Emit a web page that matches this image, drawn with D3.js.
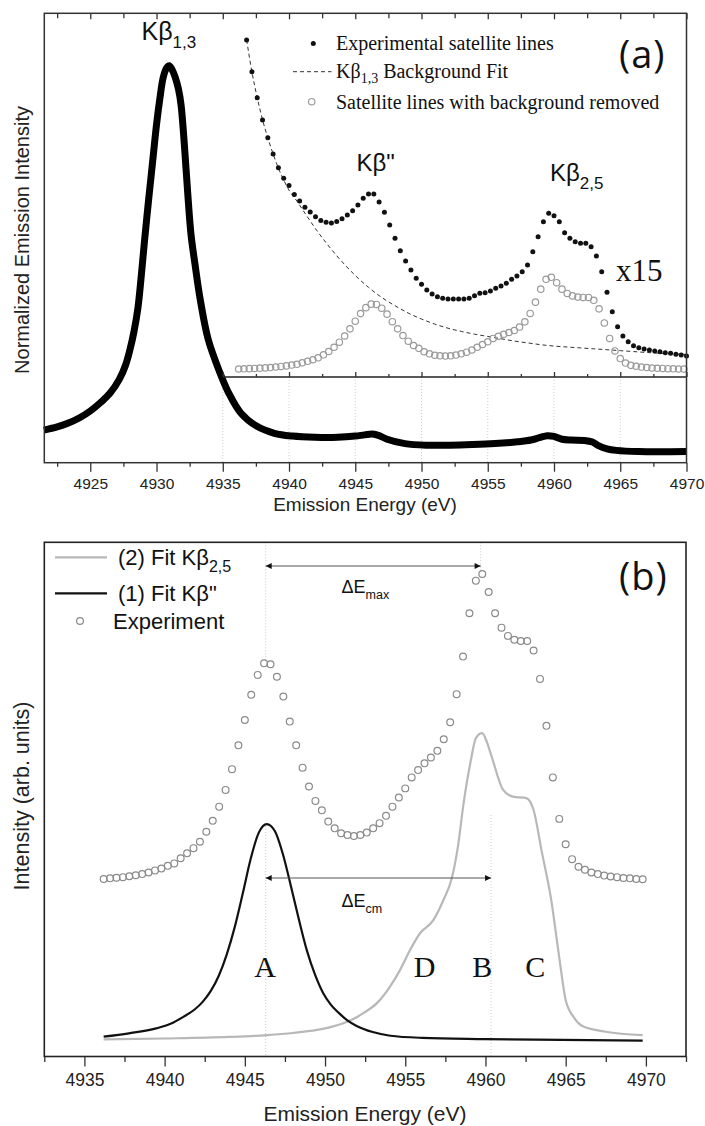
<!DOCTYPE html>
<html>
<head>
<meta charset="utf-8">
<script src="https://cdn.jsdelivr.net/npm/d3@7"></script>
<style>
  body { margin: 0; background: #fff; }
</style>
</head>
<body>
<svg id="chart" width="705" height="1126"></svg>
<script>
// ---------------- data ----------------
// (a) main Kb1,3 emission line, normalized
const mainEnergy = [4921.5, 4922.5, 4923.3, 4924.2, 4925.0, 4925.8, 4926.5, 4927.2, 4927.66, 4928.0,
  4928.3, 4928.6, 4928.85, 4929.1, 4929.4, 4929.7, 4930.0, 4930.25, 4930.5, 4930.75,
  4930.95, 4931.15, 4931.4, 4931.65, 4931.85, 4932.1, 4932.35, 4932.6, 4932.9, 4933.3,
  4933.9, 4934.8, 4935.45, 4936.36, 4937.55, 4938.9, 4940.27, 4941.96, 4943.66, 4945.0,
  4945.7, 4946.3, 4946.8, 4947.4, 4948.75, 4950.45, 4952.15, 4953.84, 4955.54, 4957.24,
  4958.26, 4958.9, 4959.5, 4960.0, 4960.6, 4961.3, 4962.3, 4962.9, 4963.35, 4964.0,
  4964.7, 4966.4, 4970.0];
const mainValue = [0.082, 0.09, 0.099, 0.113, 0.13, 0.152, 0.175, 0.21, 0.245, 0.285,
  0.33, 0.39, 0.47, 0.56, 0.66, 0.755, 0.85, 0.915, 0.968, 0.992,
  0.998, 0.99, 0.97, 0.94, 0.90, 0.80, 0.68, 0.575, 0.50, 0.41,
  0.31, 0.225, 0.175, 0.125, 0.092, 0.074, 0.067, 0.064, 0.064, 0.067,
  0.070, 0.072, 0.068, 0.059, 0.048, 0.044, 0.044, 0.0455, 0.048, 0.0525,
  0.057, 0.063, 0.068, 0.066, 0.059, 0.057, 0.056, 0.052, 0.043, 0.035,
  0.031, 0.028, 0.028];

// (a) inset, x15: experimental satellite lines (filled dots)
const rawEnergy = [4936.8, 4937.2, 4937.6, 4938.0, 4938.4, 4938.8, 4939.2, 4939.6, 4940.0, 4940.4,
  4940.8, 4941.2, 4941.6, 4942.0, 4942.4, 4942.8, 4943.2, 4943.6, 4944.0, 4944.4,
  4944.8, 4945.2, 4945.6, 4946.0, 4946.4, 4946.8, 4947.2, 4947.6, 4948.0, 4948.4,
  4948.8, 4949.2, 4949.6, 4950.0, 4950.4, 4950.8, 4951.2, 4951.6, 4952.0, 4952.4,
  4952.8, 4953.2, 4953.6, 4954.0, 4954.4, 4954.8, 4955.2, 4955.6, 4956.0, 4956.4,
  4956.8, 4957.2, 4957.6, 4958.0, 4958.4, 4958.8, 4959.2, 4959.6, 4960.0, 4960.4,
  4960.8, 4961.2, 4961.6, 4962.0, 4962.4, 4962.8, 4963.2, 4963.6, 4964.0, 4964.4,
  4964.8, 4965.2, 4965.6, 4966.0, 4966.4, 4966.8, 4967.2, 4967.6, 4968.0, 4968.4,
  4968.8, 4969.2, 4969.6, 4970.0];
const rawValue = [3.588, 3.242, 2.959, 2.715, 2.522, 2.345, 2.195, 2.080, 2.001, 1.903,
  1.832, 1.763, 1.712, 1.661, 1.619, 1.600, 1.592, 1.608, 1.639, 1.679,
  1.726, 1.788, 1.862, 1.908, 1.908, 1.821, 1.709, 1.570, 1.425, 1.290,
  1.178, 1.080, 0.989, 0.924, 0.862, 0.818, 0.788, 0.771, 0.763, 0.763,
  0.763, 0.763, 0.771, 0.799, 0.826, 0.832, 0.851, 0.880, 0.905, 0.935,
  0.978, 1.014, 1.061, 1.134, 1.279, 1.443, 1.606, 1.698, 1.672, 1.606,
  1.486, 1.425, 1.388, 1.371, 1.371, 1.334, 1.232, 1.061, 0.836, 0.625,
  0.461, 0.360, 0.298, 0.254, 0.232, 0.218, 0.207, 0.196, 0.189, 0.178,
  0.171, 0.160, 0.153, 0.142];

// (a) inset: Kb1,3 background fit (dashed)
const bgEnergy = [4936.8, 4937.2, 4937.6, 4938.0, 4938.4, 4938.8, 4939.2, 4939.6, 4940.0, 4940.6,
  4941.2, 4942.0, 4943.0, 4944.0, 4945.0, 4946.0, 4947.0, 4948.0, 4949.0, 4950.0,
  4951.0, 4952.0, 4953.0, 4954.0, 4955.0, 4956.0, 4957.0, 4958.0, 4959.0, 4960.0,
  4961.0, 4962.0, 4963.0, 4964.0, 4965.0, 4966.0, 4967.0, 4968.0, 4969.0, 4970.0];
const bgValue = [3.59, 3.24, 2.96, 2.72, 2.52, 2.345, 2.19, 2.06, 1.95, 1.83,
  1.70, 1.53, 1.34, 1.17, 1.02, 0.89, 0.78, 0.69, 0.61, 0.545,
  0.49, 0.445, 0.41, 0.38, 0.355, 0.33, 0.305, 0.285, 0.265, 0.25,
  0.24, 0.23, 0.22, 0.21, 0.20, 0.19, 0.18, 0.172, 0.165, 0.158];

// satellite lines with background removed (open circles in (a) and "Experiment" in (b))
const satEnergy = [4936.2, 4936.6, 4937.0, 4937.4, 4937.8, 4938.2, 4938.6, 4939.0, 4939.4, 4939.8,
  4940.2, 4940.6, 4941.0, 4941.4, 4941.8, 4942.2, 4942.6, 4943.0, 4943.4, 4943.8,
  4944.2, 4944.6, 4945.0, 4945.4, 4945.8, 4946.2, 4946.6, 4947.0, 4947.4, 4947.8,
  4948.2, 4948.6, 4949.0, 4949.4, 4949.8, 4950.2, 4950.6, 4951.0, 4951.4, 4951.8,
  4952.2, 4952.6, 4953.0, 4953.4, 4953.8, 4954.2, 4954.6, 4955.0, 4955.4, 4955.8,
  4956.2, 4956.6, 4957.0, 4957.4, 4957.8, 4958.2, 4958.6, 4959.0, 4959.4, 4959.8,
  4960.2, 4960.6, 4961.0, 4961.4, 4961.8, 4962.2, 4962.6, 4963.0, 4963.4, 4963.8,
  4964.2, 4964.6, 4965.0, 4965.4, 4965.8, 4966.2, 4966.6, 4967.0, 4967.4, 4967.8,
  4968.2, 4968.6, 4969.0, 4969.4, 4969.8];
const satValue = [0.000, 0.002, 0.004, 0.006, 0.009, 0.012, 0.016, 0.021, 0.028, 0.034,
  0.043, 0.051, 0.068, 0.084, 0.101, 0.122, 0.155, 0.191, 0.237, 0.292,
  0.360, 0.438, 0.521, 0.604, 0.669, 0.707, 0.704, 0.663, 0.598, 0.516,
  0.438, 0.365, 0.303, 0.256, 0.225, 0.188, 0.166, 0.150, 0.144, 0.141,
  0.144, 0.152, 0.166, 0.183, 0.207, 0.237, 0.267, 0.297, 0.333, 0.357,
  0.379, 0.398, 0.420, 0.458, 0.514, 0.606, 0.729, 0.871, 0.978, 1.000,
  0.941, 0.871, 0.824, 0.797, 0.784, 0.780, 0.780, 0.749, 0.656, 0.502,
  0.333, 0.197, 0.114, 0.065, 0.040, 0.030, 0.021, 0.016, 0.011, 0.008,
  0.006, 0.003, 0.002, 0.000, -0.001];

// (b) fit (1) Kb''
const fit1Energy = [4936.2, 4937.77, 4939.47, 4940.37, 4941.17, 4941.87, 4942.37, 4942.87, 4943.37, 4943.87,
  4944.37, 4944.87, 4945.37, 4945.87, 4946.37, 4946.87, 4947.37, 4947.87, 4948.37, 4948.87,
  4949.37, 4949.87, 4950.37, 4950.87, 4951.37, 4951.97, 4952.97, 4954.07, 4956.07, 4959.97,
  4969.8];
const fit1Value = [0.011, 0.022, 0.038, 0.053, 0.076, 0.10, 0.125, 0.16, 0.21, 0.28,
  0.37, 0.48, 0.595, 0.68, 0.708, 0.685, 0.61, 0.505, 0.395, 0.293,
  0.215, 0.155, 0.115, 0.088, 0.065, 0.046, 0.026, 0.014, 0.007, 0.003,
  -0.002];

// (b) fit (2) Kb2,5
const fit2Energy = [4936.2, 4940.0, 4944.0, 4946.4, 4948.0, 4949.5, 4950.4, 4951.14, 4951.8, 4952.39,
  4953.22, 4954.05, 4954.68, 4955.3, 4955.92, 4956.75, 4957.38, 4957.9, 4958.3, 4958.62,
  4959.1, 4959.4, 4959.8, 4960.1, 4960.4, 4961.1, 4961.7, 4962.55, 4963.0, 4963.5,
  4964.1, 4964.6, 4965.0, 4965.5, 4966.1, 4967.5, 4969.8];
const fit2Value = [0.002, 0.005, 0.010, 0.016, 0.023, 0.033, 0.043, 0.055, 0.07, 0.088,
  0.12, 0.175, 0.23, 0.295, 0.35, 0.393, 0.459, 0.53, 0.64, 0.77,
  0.92, 0.99, 1.006, 0.975, 0.927, 0.82, 0.798, 0.793, 0.754, 0.62,
  0.459, 0.27, 0.131, 0.075, 0.044, 0.027, 0.016];

// ticks
const ticksA = [4925, 4930, 4935, 4940, 4945, 4950, 4955, 4960, 4965, 4970];
const minorA = [4922.5, 4927.5, 4932.5, 4937.5, 4942.5, 4947.5, 4952.5, 4957.5, 4962.5, 4967.5];
const insetTicks = [4935, 4940, 4945, 4950, 4955, 4960, 4965, 4970];
const insetMinor = [4937.5, 4942.5, 4947.5, 4952.5, 4957.5, 4962.5, 4967.5];
const insetGrid = [4935, 4940, 4945, 4950, 4955, 4960, 4965];
const ticksB = [4935, 4940, 4945, 4950, 4955, 4960, 4965, 4970];
const minorB = [4932.5, 4937.5, 4942.5, 4947.5, 4952.5, 4957.5, 4962.5, 4967.5, 4972.5];

// (b) annotations: energies of Kb'' max, Kb2,5 max, Kb2,5 centre of mass
const ePeakA = 4946.3;
const eMax = 4959.7;
const eCm = 4960.35;
const peakLetters = [["A", 4946.27], ["D", 4956.2], ["B", 4959.8], ["C", 4963.1]];

// ---------------- layout ----------------
const svg = d3.select("#chart");
const sans = '"Liberation Sans", Arial, sans-serif';
const serif = '"Liberation Serif", "Times New Roman", serif';
const panelFont = '"Open Sans", Lato, sans-serif';

const pA = { left: 44.3, right: 686.5, top: 13.3, bottom: 462.7 };
const pB = { left: 44.3, right: 686, top: 542.3, bottom: 1056.5 };
const insetAxisY = 377;

const xA = d3.scaleLinear().domain([4921.53, 4970]).range([pA.left, pA.right]);
const yA = d3.scaleLinear().domain([0, 1.13]).range([pA.bottom, pA.top]);
const yIn = d3.scaleLinear().domain([0, 1]).range([369, 277.3]);
const xB = d3.scaleLinear().domain([4932.5, 4972.5]).range([pB.left, pB.right]);
const yB = d3.scaleLinear().domain([0, 1]).range([1040, 735]);
const expOffset = 0.528; // experiment stacked above the fits

const zip = (xs, ys) => xs.map((x, i) => [x, ys[i]]);

// text with optional sub/superscript pieces
function addText(g, x, y, parts, size, family, anchor) {
  const t = g.append("text")
    .attr("x", x).attr("y", y)
    .attr("font-size", size)
    .attr("font-family", family)
    .attr("fill", "#111")
    .attr("text-anchor", anchor || "start");
  parts.forEach(p => {
    if (typeof p === "string") {
      t.append("tspan").text(p);
    } else {
      const s = t.append("tspan").text(p.t);
      if (p.size) s.attr("font-size", p.size);
      if (p.dy) s.attr("dy", p.dy);
    }
  });
  return t;
}

function styleAxis(g, fontSize) {
  g.select(".domain").remove();
  g.selectAll("line").attr("stroke", "#333").attr("stroke-width", 1.3);
  g.selectAll("text").attr("font-size", fontSize).attr("font-family", sans).attr("fill", "#222");
}

// ---------------- panel (a) ----------------
const gA = svg.append("g");

gA.selectAll("line.grid").data(insetGrid).join("line")
  .attr("class", "grid")
  .attr("x1", d => xA(d)).attr("x2", d => xA(d))
  .attr("y1", insetAxisY).attr("y2", pA.bottom)
  .attr("stroke", "#c4c4c4").attr("stroke-width", 0.8)
  .attr("stroke-dasharray", "1,2");

gA.append("path")
  .datum(zip(mainEnergy, mainValue))
  .attr("fill", "none")
  .attr("stroke", "#000")
  .attr("stroke-width", 7)
  .attr("stroke-linejoin", "round")
  .attr("d", d3.line().x(d => xA(d[0])).y(d => yA(d[1])).curve(d3.curveCatmullRom.alpha(0.5)));

// inset axis
gA.append("line")
  .attr("x1", xA(4935)).attr("x2", xA(4970))
  .attr("y1", insetAxisY).attr("y2", insetAxisY)
  .attr("stroke", "#222").attr("stroke-width", 1.6);
const inMaj = gA.append("g").attr("transform", `translate(0,${insetAxisY})`)
  .call(d3.axisTop(xA).tickValues(insetTicks).tickSize(5).tickFormat(""));
styleAxis(inMaj, 10);
const inMin = gA.append("g").attr("transform", `translate(0,${insetAxisY})`)
  .call(d3.axisTop(xA).tickValues(insetMinor).tickSize(3).tickFormat(""));
styleAxis(inMin, 10);

// background fit
gA.append("path")
  .datum(zip(bgEnergy, bgValue))
  .attr("fill", "none")
  .attr("stroke", "#333")
  .attr("stroke-width", 1)
  .attr("stroke-dasharray", "4,3")
  .attr("d", d3.line().x(d => xA(d[0])).y(d => yIn(d[1])).curve(d3.curveMonotoneX));

// background removed (open)
gA.selectAll("circle.sat").data(zip(satEnergy, satValue)).join("circle")
  .attr("class", "sat")
  .attr("cx", d => xA(d[0])).attr("cy", d => yIn(d[1]))
  .attr("r", 3.2)
  .attr("fill", "none").attr("stroke", "#9a9a9a").attr("stroke-width", 1.2);

// experimental satellites (filled)
gA.selectAll("circle.raw").data(zip(rawEnergy, rawValue)).join("circle")
  .attr("class", "raw")
  .attr("cx", d => xA(d[0])).attr("cy", d => yIn(d[1]))
  .attr("r", 2.5)
  .attr("fill", "#111");

// axes of (a)
const axAMaj = gA.append("g").attr("transform", `translate(0,${pA.bottom})`)
  .call(d3.axisBottom(xA).tickValues(ticksA).tickSize(9).tickPadding(6).tickFormat(d3.format("d")));
styleAxis(axAMaj, 15.5);
const axAMin = gA.append("g").attr("transform", `translate(0,${pA.bottom})`)
  .call(d3.axisBottom(xA).tickValues(minorA).tickSize(4).tickFormat(""));
styleAxis(axAMin, 10);
const topAMaj = gA.append("g").attr("transform", `translate(0,${pA.top})`)
  .call(d3.axisBottom(xA).tickValues(ticksA).tickSize(6).tickFormat(""));
styleAxis(topAMaj, 10);
const topAMin = gA.append("g").attr("transform", `translate(0,${pA.top})`)
  .call(d3.axisBottom(xA).tickValues(minorA).tickSize(5).tickFormat(""));
styleAxis(topAMin, 10);

gA.append("rect")
  .attr("x", pA.left).attr("y", pA.top)
  .attr("width", pA.right - pA.left).attr("height", pA.bottom - pA.top)
  .attr("fill", "none").attr("stroke", "#333").attr("stroke-width", 1.5);

// labels of (a)
addText(gA, 141.5, 40, ["Kβ", { t: "1,3", size: 17, dy: 8 }], 25, sans);
addText(gA, 356.5, 171, ["Kβ\""], 24, sans);
addText(gA, 550, 181, ["Kβ", { t: "2,5", size: 17, dy: 8 }], 24, sans);
addText(gA, 616, 281, ["x15"], 31, serif);
addText(gA, 619, 68, ["(a)"], 38, panelFont).attr("letter-spacing", 1);

// legend of (a)
gA.append("circle").attr("cx", 313.3).attr("cy", 43.5).attr("r", 2.5).attr("fill", "#111");
addText(gA, 336, 49.5, ["Experimental satellite lines"], 20, serif);
gA.append("line").attr("x1", 293).attr("x2", 331.5).attr("y1", 71.7).attr("y2", 71.7)
  .attr("stroke", "#333").attr("stroke-width", 1).attr("stroke-dasharray", "4,3");
addText(gA, 336, 77.5, ["Kβ", { t: "1,3", size: 14, dy: 5 }, { t: " Background Fit", dy: -5 }], 20, serif);
gA.append("circle").attr("cx", 311.7).attr("cy", 101.7).attr("r", 3.2)
  .attr("fill", "none").attr("stroke", "#9a9a9a").attr("stroke-width", 1.2);
addText(gA, 336, 108.5, ["Satellite lines with background removed"], 20, serif);

// axis titles (a)
addText(gA, 365, 511, ["Emission Energy (eV)"], 19, sans, "middle").attr("fill", "#222");
addText(gA, 0, 0, ["Normalized Emission Intensity"], 20, sans, "middle")
  .attr("fill", "#222")
  .attr("transform", "translate(29,240) rotate(-90)");

// ---------------- panel (b) ----------------
const gB = svg.append("g");

// dotted guides
const guides = [
  [ePeakA, pB.top, 660], [ePeakA, 826, pB.bottom],
  [eMax, pB.top, 572], [eCm, 815, pB.bottom]
];
gB.selectAll("line.guide").data(guides).join("line")
  .attr("class", "guide")
  .attr("x1", d => xB(d[0])).attr("x2", d => xB(d[0]))
  .attr("y1", d => d[1]).attr("y2", d => d[2])
  .attr("stroke", "#bdbdbd").attr("stroke-width", 0.8).attr("stroke-dasharray", "1,2");

const lineB = d3.line().x(d => xB(d[0])).y(d => yB(d[1])).curve(d3.curveMonotoneX);
gB.append("path").datum(zip(fit2Energy, fit2Value))
  .attr("fill", "none").attr("stroke", "#b8b8b8").attr("stroke-width", 2.2)
  .attr("d", lineB);
gB.append("path").datum(zip(fit1Energy, fit1Value))
  .attr("fill", "none").attr("stroke", "#111").attr("stroke-width", 2.2)
  .attr("d", lineB);

gB.selectAll("circle.exp").data(zip(satEnergy, satValue)).join("circle")
  .attr("class", "exp")
  .attr("cx", d => xB(d[0])).attr("cy", d => yB(d[1] + expOffset))
  .attr("r", 3.4)
  .attr("fill", "none").attr("stroke", "#8a8a8a").attr("stroke-width", 1.2);

// arrows
const defs = svg.append("defs");
defs.append("marker")
  .attr("id", "arrow").attr("viewBox", "0 0 10 10")
  .attr("refX", 10).attr("refY", 5)
  .attr("markerWidth", 9).attr("markerHeight", 6)
  .attr("markerUnits", "userSpaceOnUse")
  .attr("orient", "auto-start-reverse")
  .append("path").attr("d", "M0,0L10,5L0,10z").attr("fill", "#111");

function arrow(e1, e2, y) {
  gB.append("line")
    .attr("x1", xB(e1)).attr("x2", xB(e2)).attr("y1", y).attr("y2", y)
    .attr("stroke", "#555").attr("stroke-width", 1.1)
    .attr("marker-start", "url(#arrow)").attr("marker-end", "url(#arrow)");
}
arrow(ePeakA, eMax, 566);
arrow(ePeakA, eCm, 878);
addText(gB, 341.5, 593, ["ΔE", { t: "max", size: 12.5, dy: 6 }], 18, sans);
addText(gB, 341.5, 906.5, ["ΔE", { t: "cm", size: 12.5, dy: 6 }], 18, sans);

peakLetters.forEach(([t, e]) => addText(gB, xB(e), 977, [t], 30, serif, "middle"));

// axes (b)
const axBMaj = gB.append("g").attr("transform", `translate(0,${pB.bottom})`)
  .call(d3.axisBottom(xB).tickValues(ticksB).tickSize(10).tickPadding(7.5).tickFormat(d3.format("d")));
styleAxis(axBMaj, 17.5);
const axBMin = gB.append("g").attr("transform", `translate(0,${pB.bottom})`)
  .call(d3.axisBottom(xB).tickValues(minorB).tickSize(5.5).tickFormat(""));
styleAxis(axBMin, 10);

gB.append("rect")
  .attr("x", pB.left).attr("y", pB.top)
  .attr("width", pB.right - pB.left).attr("height", pB.bottom - pB.top)
  .attr("fill", "none").attr("stroke", "#222").attr("stroke-width", 1.6);

// legend (b)
gB.append("line").attr("x1", 55).attr("x2", 107).attr("y1", 557.3).attr("y2", 557.3)
  .attr("stroke", "#b8b8b8").attr("stroke-width", 2.2);
addText(gB, 118, 564.5, ["(2) Fit Kβ", { t: "2,5", size: 16, dy: 7 }], 22, sans);
gB.append("line").attr("x1", 55).attr("x2", 107).attr("y1", 593.3).attr("y2", 593.3)
  .attr("stroke", "#111").attr("stroke-width", 2.2);
addText(gB, 118, 600.5, ["(1) Fit Kβ\""], 22, sans);
gB.append("circle").attr("cx", 80).attr("cy", 621).attr("r", 3.4)
  .attr("fill", "none").attr("stroke", "#8a8a8a").attr("stroke-width", 1.2);
addText(gB, 113, 628.5, ["Experiment"], 22, sans);

addText(gB, 619, 590, ["(b)"], 38, panelFont).attr("letter-spacing", 1);

// axis titles (b)
addText(gB, 365, 1121, ["Emission Energy (eV)"], 21, sans, "middle").attr("fill", "#222");
addText(gB, 0, 0, ["Intensity (arb. units)"], 21.5, sans, "middle")
  .attr("fill", "#222")
  .attr("transform", "translate(29,796) rotate(-90)");
</script>
</body>
</html>
